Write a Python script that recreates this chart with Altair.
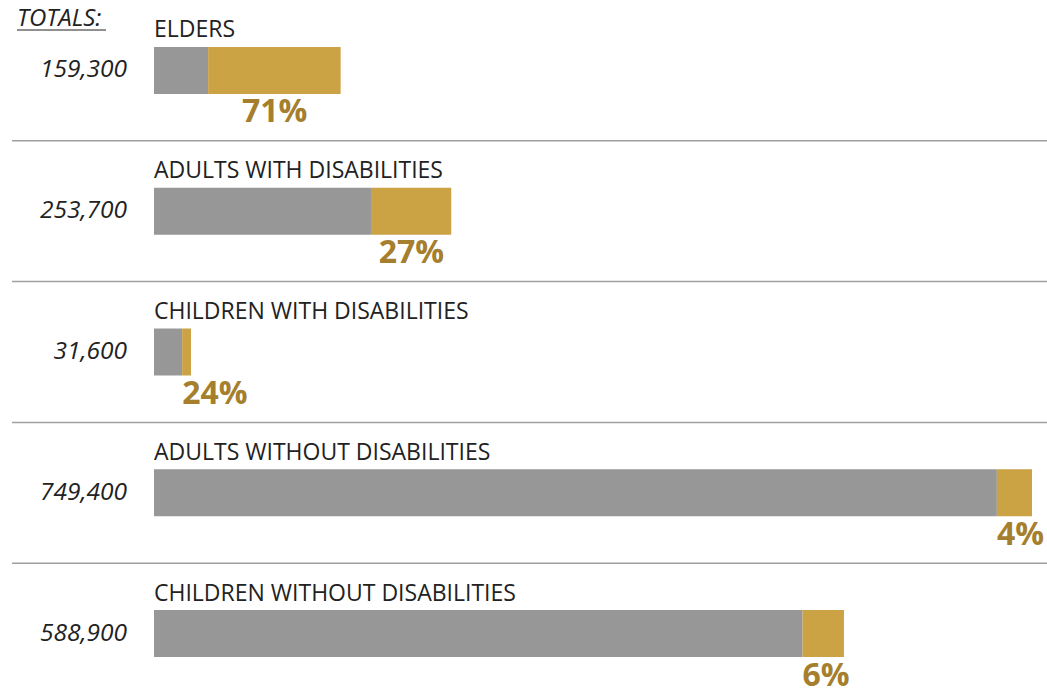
import altair as alt
import pandas as pd

categories = ["ELDERS", "ADULTS WITH DISABILITIES", "CHILDREN WITH DISABILITIES",
              "ADULTS WITHOUT DISABILITIES", "CHILDREN WITHOUT DISABILITIES"]
totals = [159300, 253700, 31600, 749400, 588900]
pcts = [71, 27, 24, 4, 6]

rows = pd.DataFrame({"cat": categories, "total": totals, "pct": pcts})
rows["total_label"] = rows["total"].map(lambda v: f"{v:,}")
rows["pct_label"] = rows["pct"].astype(str) + "%"
rows["gold_start"] = rows["total"] * (1 - rows["pct"] / 100)
rows["gold_mid"] = (rows["gold_start"] + rows["total"]) / 2
HALF = 27700  # half label width, data units
rows["label_x"] = [max(s, m - HALF) for s, m in zip(rows["gold_start"], rows["gold_mid"])]

segs = pd.concat([
    pd.DataFrame({"cat": rows["cat"], "start": 0.0, "end": rows["gold_start"], "seg": "rest"}),
    pd.DataFrame({"cat": rows["cat"], "start": rows["gold_start"], "end": rows["total"].astype(float), "seg": "share"}),
])

FONT = "Open Sans"
xscale = alt.Scale(domain=[0, 749400], range=[154, 1032])
yscale = alt.Scale(domain=categories, range=[0, 704], paddingInner=0, paddingOuter=0)
Y = alt.Y("cat:N", scale=yscale, axis=None, sort=categories)

bars = alt.Chart(segs).mark_bar(size=47).encode(
    x=alt.X("start:Q", scale=xscale, axis=None),
    x2="end:Q",
    y=Y,
    color=alt.Color("seg:N", scale=alt.Scale(domain=["rest", "share"], range=["#979797", "#cba244"]), legend=None),
)

base = alt.Chart(rows)

cat_text = base.mark_text(align="left", baseline="middle", dy=-40, fontSize=23, font=FONT, color="#222222").encode(
    x=alt.value(154), y=Y, text="cat:N")

tot_text = base.mark_text(align="right", baseline="middle", fontSize=24.5, fontStyle="italic", font=FONT, color="#222222").encode(
    x=alt.value(127), y=Y, text="total_label:N")

pct_text = base.mark_text(align="left", baseline="middle", dy=42, fontSize=32, fontWeight="bold", font=FONT, color="#a57f2e").encode(
    x=alt.X("label_x:Q", scale=xscale, axis=None), y=Y, text="pct_label:N")

seps = alt.Chart(rows.iloc[:4]).mark_rule(color="#a0a0a0", strokeWidth=1.5).encode(
    x=alt.value(12), x2=alt.value(1047),
    y=alt.Y("cat:N", scale=yscale, axis=None, sort=categories, bandPosition=1))

title_df = pd.DataFrame({"t": ["TOTALS:"]})
totals_title = alt.Chart(title_df).mark_text(align="left", baseline="middle", fontSize=24, fontStyle="italic", font=FONT, color="#222222").encode(
    x=alt.value(17), y=alt.value(19), text="t:N")
underline = alt.Chart(title_df).mark_rule(color="#222222", strokeWidth=1.2).encode(
    x=alt.value(17), x2=alt.value(106), y=alt.value(30))

chart = alt.layer(seps, bars, cat_text, tot_text, pct_text, totals_title, underline).properties(
    width=1047, height=691, padding=0, autosize=alt.AutoSizeParams(type="none"), background="white"
).configure_view(stroke=None)

chart.save("out.html", embed_options={"renderer": "svg", "actions": False})
